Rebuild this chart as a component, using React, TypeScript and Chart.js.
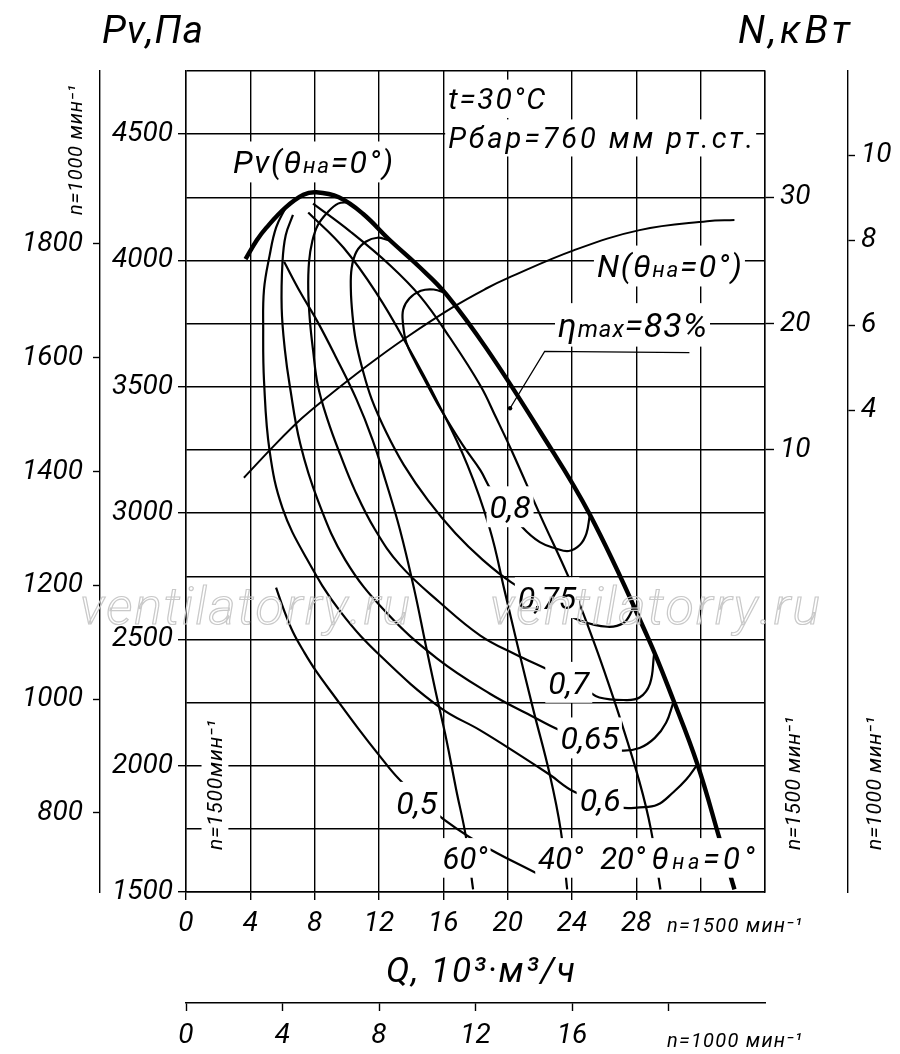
import React, { useEffect, useRef } from 'react';
import { Chart, registerables } from 'chart.js';

Chart.register(...registerables);

type Pt = [number, number];

// Q, 10^3 m3/h at n=1500; Pv, Pa
const PV_0: Pt[] = [[3.7, 4005], [4.4, 4080], [5.0, 4130], [6.2, 4210], [7.3, 4260], [8.1, 4270], [9.5, 4250], [11.0, 4185], [12.6, 4085], [14.5, 3975], [16.2, 3865], [18.7, 3650], [22.0, 3325], [25.1, 2995], [28.7, 2510], [30.3, 2260], [31.8, 2005], [33.2, 1705], [34.1, 1510]];
const PV_20: Pt[] = [[7.9, 4225], [10.2, 4115], [12.7, 3980], [14.6, 3855], [16.4, 3695], [18.3, 3505], [19.3, 3375], [20.3, 3240], [22.0, 2995], [24.0, 2715], [25.3, 2500], [26.0, 2375], [27.0, 2185], [28.2, 1935], [28.9, 1750], [29.5, 1510]];
const PV_40: Pt[] = [[7.6, 4190], [9.8, 4050], [11.9, 3865], [13.7, 3670], [15.6, 3445], [17.5, 3190], [18.9, 2935], [19.8, 2695], [20.6, 2480], [21.6, 2220], [22.6, 1970], [23.3, 1745], [23.7, 1510]];
const PV_60: Pt[] = [[6.1, 3995], [7.1, 3875], [8.2, 3755], [9.3, 3620], [10.6, 3450], [11.6, 3290], [12.4, 3130], [13.3, 2935], [14.2, 2695], [14.9, 2480], [15.5, 2300], [16.2, 2100], [16.8, 1905], [17.4, 1720], [17.85, 1510]];

// N, kW at n=1500
const N_0: Pt[] = [[3.6, 7.8], [5.6, 10.5], [7.2, 12.5], [8.5, 13.9], [11.2, 16.6], [13.7, 18.9], [16.6, 21.3], [18.7, 22.8], [20.0, 23.6], [24.1, 25.8], [28.2, 27.4], [32.4, 28.1], [34.1, 28.2]];

// efficiency contours (Q, Pv)
const ETA_80: Pt[] = [[16.2, 3870], [15.4, 3885], [14.6, 3880], [13.9, 3850], [13.5, 3805], [13.5, 3745], [13.7, 3675], [14.2, 3605], [14.9, 3520], [15.8, 3415], [17.2, 3270], [18.3, 3170], [19.0, 3090], [20.2, 3010], [20.9, 2945], [22.0, 2885], [23.0, 2860], [23.8, 2850], [24.5, 2875], [24.9, 2920], [25.1, 2990]];
const ETA_75: Pt[] = [[12.6, 4080], [11.9, 4090], [11.2, 4075], [10.6, 4035], [10.3, 3970], [10.25, 3885], [10.35, 3785], [10.55, 3685], [10.95, 3575], [11.55, 3450], [12.45, 3320], [13.55, 3190], [15.05, 3050], [16.75, 2920], [18.45, 2815], [20.25, 2725], [22.8, 2630], [24.5, 2575], [26.2, 2550], [27.2, 2565], [27.7, 2610], [27.8, 2640]];
const ETA_70: Pt[] = [[10.1, 4230], [9.45, 4225], [8.8, 4190], [8.2, 4140], [7.85, 4075], [7.65, 3995], [7.6, 3885], [7.7, 3765], [7.9, 3645], [8.2, 3505], [8.8, 3370], [9.6, 3230], [10.5, 3090], [11.75, 2935], [13.3, 2795], [15.8, 2645], [18.3, 2515], [20.5, 2440], [22.5, 2380], [24.9, 2300], [25.7, 2270], [27.2, 2260], [28.2, 2270], [28.85, 2325], [29.1, 2440]];
const ETA_65: Pt[] = [[6.65, 4180], [6.2, 4100], [6.0, 3995], [5.95, 3810], [6.15, 3645], [6.45, 3505], [7.1, 3275], [8.2, 3050], [9.9, 2815], [12.4, 2610], [15.6, 2425], [18.9, 2285], [21.4, 2200], [23.25, 2140], [25.7, 2080], [27.0, 2060], [28.2, 2070], [29.15, 2110], [29.85, 2170], [30.3, 2250]];
const ETA_60: Pt[] = [[6.2, 4210], [5.6, 4130], [5.2, 4020], [4.85, 3885], [4.8, 3725], [4.85, 3525], [5.2, 3245], [6.0, 3020], [7.5, 2820], [9.6, 2610], [12.25, 2425], [15.8, 2230], [18.3, 2140], [20.8, 2040], [22.6, 1965], [24.2, 1895], [27.0, 1835], [28.2, 1835], [29.3, 1845], [30.3, 1895], [31.1, 1945], [31.8, 2005]];
const ETA_50: Pt[] = [[5.6, 2705], [6.09, 2616], [6.65, 2529], [7.34, 2450], [8.08, 2375], [9.26, 2272], [10.69, 2149], [12.0, 2042], [13.24, 1947], [15.42, 1817], [18.22, 1694], [22.0, 1567]];
const ETA_MAX_LEADER: Pt[] = [[20.15, 3415], [22.3, 3640], [31.3, 3635]];

// axes
const Q_RANGE: Pt = [0, 36];
const Q1000_RANGE: Pt = [0, 24];
const PV_RANGE: Pt = [1500, 4750];
const PV1000_RANGE: Pt = [661, 2104];
const N_RANGE: Pt = [-25, 40];
const N1000_RANGE: Pt = [-7.34, 11.98];

const Q_GRID = [0, 4, 8, 12, 16, 20, 24, 28, 32, 36];
const Q_LABELS = [0, 4, 8, 12, 16, 20, 24, 28];
const Q1000_TICKS = [0, 4, 8, 12, 16, 20];
const Q1000_LABELS = [0, 4, 8, 12, 16];
const PV_GRID = [1500, 1750, 2000, 2250, 2500, 2750, 3000, 3250, 3500, 3750, 4000, 4250, 4500, 4750];
const PV_LABELS = [1500, 2000, 2500, 3000, 3500, 4000, 4500];
const PV1000_LABELS = [800, 1000, 1200, 1400, 1600, 1800];
const N_LABELS = [10, 20, 30];
const N1000_LABELS = [4, 6, 8, 10];

const FAMILY = 'Roboto, "DejaVu Sans", sans-serif';
const INK = '#000';
const TICK_FONT = { family: FAMILY, size: 28, style: 'italic' as const, weight: 400 as any };

type Part = [string, number?];
interface TextOpts { size: number; width?: number; bg?: boolean; rotate?: boolean; center?: boolean; stroke?: string; weight?: number }

// draws letter-spaced italic text; (x, y) = left (or centre) and cap middle
function drawText(ctx: CanvasRenderingContext2D, parts: Part[], x: number, y: number, o: TextOpts) {
  const weight = o.weight ?? 400;
  const chars: { ch: string; size: number; w: number }[] = [];
  for (const [t, k = 1] of parts) {
    const s = o.size * k;
    ctx.font = `italic ${weight} ${s}px ${FAMILY}`;
    for (const ch of Array.from(t)) chars.push({ ch, size: s, w: ctx.measureText(ch).width });
  }
  const natural = chars.reduce((a, c) => a + c.w, 0);
  const gap = o.width && chars.length > 1 ? (o.width - natural) / (chars.length - 1) : 0;
  const total = natural + gap * (chars.length - 1);
  const cap = o.size * 0.71;
  ctx.save();
  ctx.translate(x, y);
  if (o.rotate) ctx.rotate(-Math.PI / 2);
  let cx = o.center ? -total / 2 : 0;
  if (o.bg) {
    ctx.fillStyle = '#fff';
    ctx.fillRect(cx - 3, -cap * 0.9, total + 6, cap * 1.8);
  }
  ctx.textBaseline = 'alphabetic';
  for (const c of chars) {
    ctx.font = `italic ${weight} ${c.size}px ${FAMILY}`;
    if (o.stroke) {
      ctx.strokeStyle = o.stroke;
      ctx.lineWidth = 1.2;
      ctx.strokeText(c.ch, cx, cap / 2);
    } else {
      ctx.fillStyle = INK;
      ctx.fillText(c.ch, cx, cap / 2);
    }
    cx += c.w + gap;
  }
  ctx.restore();
}

const textPlugin = {
  id: 'fanText',
  afterDatasetsDraw(chart: Chart) {
    const { ctx, scales } = chart;
    const X = (q: number) => scales.x.getPixelForValue(q);
    const Y = (p: number) => scales.y.getPixelForValue(p);
    const lab = (parts: Part[], q: number, p: number, size: number, width?: number, center = true) =>
      drawText(ctx, parts, X(q), Y(p), { size, width, bg: true, center });

    lab([['0,8']], 20.15, 3025, 32);
    lab([['0,75']], 22.45, 2665, 32);
    lab([['0,7']], 23.8, 2330, 32);
    lab([['0,65']], 25.1, 2110, 32);
    lab([['0,6']], 25.75, 1865, 32);
    lab([['0,5']], 14.35, 1855, 32);
    lab([['60°']], 17.35, 1635, 31);
    lab([['40°']], 23.3, 1635, 31);
    lab([['20°']], 27.15, 1635, 31);
    lab([['θ'], ['на', 0.7], ['=0°']], 28.95, 1635, 31, 103, false);
    lab([['Pv(θ'], ['на', 0.7], ['=0°)']], 2.92, 4390, 32, 160, false);
    lab([['N(θ'], ['на', 0.7], ['=0°)']], 25.55, 3978, 32, 145, false);
    lab([['η'], ['max', 0.7], ['=83%']], 23.13, 3745, 34, 149, false);
    lab([['t=30°C']], 16.3, 4640, 30, 97, false);
    lab([['Рбар=760 мм рт.ст.']], 16.3, 4485, 29, 305, false);
    drawText(ctx, [['n=1500мин⁻¹']], X(1.8), Y(1666), { size: 21, width: 130, bg: true, rotate: true });
  },
  afterDraw(chart: Chart) {
    const { ctx } = chart;
    drawText(ctx, [['Pv,Па']], 102, 29, { size: 39, width: 101 });
    drawText(ctx, [['N,кВт']], 738, 29, { size: 39, width: 112 });
    drawText(ctx, [['Q, 10³·м³/ч']], 386, 970, { size: 35, width: 189 });
    drawText(ctx, [['n=1500 мин⁻¹']], 667, 925, { size: 20, width: 135 });
    drawText(ctx, [['n=1000 мин⁻¹']], 667, 1040, { size: 20, width: 135 });
    drawText(ctx, [['n=1000 мин⁻¹']], 75, 215, { size: 20, width: 130, rotate: true });
    drawText(ctx, [['n=1500 мин⁻¹']], 793, 850, { size: 21, width: 133, rotate: true });
    drawText(ctx, [['n=1000 мин⁻¹']], 874, 850, { size: 21, width: 133, rotate: true });
    drawText(ctx, [['ventilatorry.ru']], 80, 606, { size: 52, width: 330, stroke: '#c9c9c9', weight: 300 });
    drawText(ctx, [['ventilatorry.ru']], 490, 606, { size: 52, width: 330, stroke: '#c9c9c9', weight: 300 });
  },
};

const curve = (label: string, pts: Pt[], width = 2.2, yAxisID = 'y') => ({
  label,
  data: pts.map(([x, y]) => ({ x, y })),
  borderColor: INK,
  borderWidth: width,
  pointRadius: 0,
  showLine: true,
  tension: 0.4,
  fill: false,
  xAxisID: 'x',
  yAxisID,
});

const setTicks = (vals: number[]) => (s: any) => { s.ticks = vals.map(value => ({ value })); };
const fixW = (w: number) => (s: any) => { s.width = w; };
const fixH = (h: number) => (s: any) => { s.height = h; };
const showIf = (vals: number[]) => (v: any) => (vals.includes(Number(v)) ? String(v) : '');
const plain = (v: any) => String(v);
const markIf = (vals: number[]) => (c: any) => (c.tick && vals.includes(c.tick.value) ? INK : 'rgba(0,0,0,0)');

export default function App() {
  const canvasRef = useRef<HTMLCanvasElement>(null);

  useEffect(() => {
    document.body.style.margin = '0';
    const canvas = canvasRef.current;
    if (!canvas) return;

    const line = { color: INK, width: 1.4 };
    const chart = new Chart(canvas, {
      type: 'scatter',
      data: {
        datasets: [
          curve('Pv θ=0°', PV_0, 4.4),
          curve('Pv θ=20°', PV_20),
          curve('Pv θ=40°', PV_40),
          curve('Pv θ=60°', PV_60),
          curve('N θ=0°', N_0, 2, 'yN'),
          curve('η 0.8', ETA_80),
          curve('η 0.75', ETA_75),
          curve('η 0.7', ETA_70),
          curve('η 0.65', ETA_65),
          curve('η 0.6', ETA_60),
          curve('η 0.5', ETA_50),
          { ...curve('ηmax', ETA_MAX_LEADER, 1.3), tension: 0, pointRadius: (c: any) => (c.dataIndex === 0 ? 2.2 : 0), pointBackgroundColor: INK, pointBorderWidth: 0 },
        ] as any,
      },
      options: {
        animation: false,
        responsive: false,
        events: [],
        layout: { padding: { top: 71, left: 0, right: 0, bottom: 0 } },
        plugins: { legend: { display: false }, tooltip: { enabled: false } },
        scales: {
          x: {
            type: 'linear', position: 'bottom', min: Q_RANGE[0], max: Q_RANGE[1],
            afterBuildTicks: setTicks(Q_GRID), afterFit: fixH(111),
            grid: { color: INK, lineWidth: 1.4, tickLength: 8, tickWidth: 1.4, tickColor: markIf(Q_LABELS) },
            border: { display: true, color: line.color, width: line.width },
            ticks: { callback: showIf(Q_LABELS), font: TICK_FONT, color: INK, padding: 7, maxRotation: 0, autoSkip: false },
          },
          x2: {
            type: 'linear', position: 'bottom', weight: 1, min: Q1000_RANGE[0], max: Q1000_RANGE[1],
            afterBuildTicks: setTicks(Q1000_TICKS), afterFit: fixH(51),
            grid: { drawOnChartArea: false, tickLength: 8, tickWidth: 1.4, tickColor: INK },
            border: { display: true, color: line.color, width: line.width },
            ticks: { callback: showIf(Q1000_LABELS), font: TICK_FONT, color: INK, padding: 8, maxRotation: 0, autoSkip: false },
          },
          y: {
            type: 'linear', position: 'left', min: PV_RANGE[0], max: PV_RANGE[1],
            afterBuildTicks: setTicks(PV_GRID), afterFit: fixW(86),
            grid: { color: INK, lineWidth: 1.4, tickLength: 8, tickWidth: 1.4, tickColor: markIf(PV_LABELS) },
            border: { display: true, color: line.color, width: line.width },
            ticks: { callback: showIf(PV_LABELS), font: TICK_FONT, color: INK, padding: 5, autoSkip: false },
          },
          y2: {
            type: 'linear', position: 'left', weight: 1, min: PV1000_RANGE[0], max: PV1000_RANGE[1],
            afterBuildTicks: setTicks(PV1000_LABELS), afterFit: fixW(100),
            grid: { drawOnChartArea: false, tickLength: 7, tickWidth: 1.4, tickColor: INK },
            border: { display: true, color: line.color, width: line.width },
            ticks: { callback: plain, font: TICK_FONT, color: INK, padding: 10, autoSkip: false },
          },
          yN: {
            type: 'linear', position: 'right', min: N_RANGE[0], max: N_RANGE[1],
            afterBuildTicks: setTicks(N_LABELS), afterFit: fixW(83),
            grid: { drawOnChartArea: false, tickLength: 9, tickWidth: 1.4, tickColor: INK },
            border: { display: true, color: line.color, width: line.width },
            ticks: { callback: plain, font: TICK_FONT, color: INK, padding: 6, autoSkip: false },
          },
          yN2: {
            type: 'linear', position: 'right', weight: 1, min: N1000_RANGE[0], max: N1000_RANGE[1],
            afterBuildTicks: setTicks(N1000_LABELS), afterFit: fixW(52),
            grid: { drawOnChartArea: false, tickLength: 7, tickWidth: 1.4, tickColor: INK },
            border: { display: true, color: line.color, width: line.width },
            ticks: { callback: plain, font: TICK_FONT, color: INK, padding: 6, autoSkip: false },
          },
        },
      } as any,
      plugins: [textPlugin],
    });

    return () => chart.destroy();
  }, []);

  return (
    <div style={{ width: 900, height: 1054, background: '#fff' }}>
      <canvas ref={canvasRef} width={900} height={1054} style={{ display: 'block' }} />
    </div>
  );
}
